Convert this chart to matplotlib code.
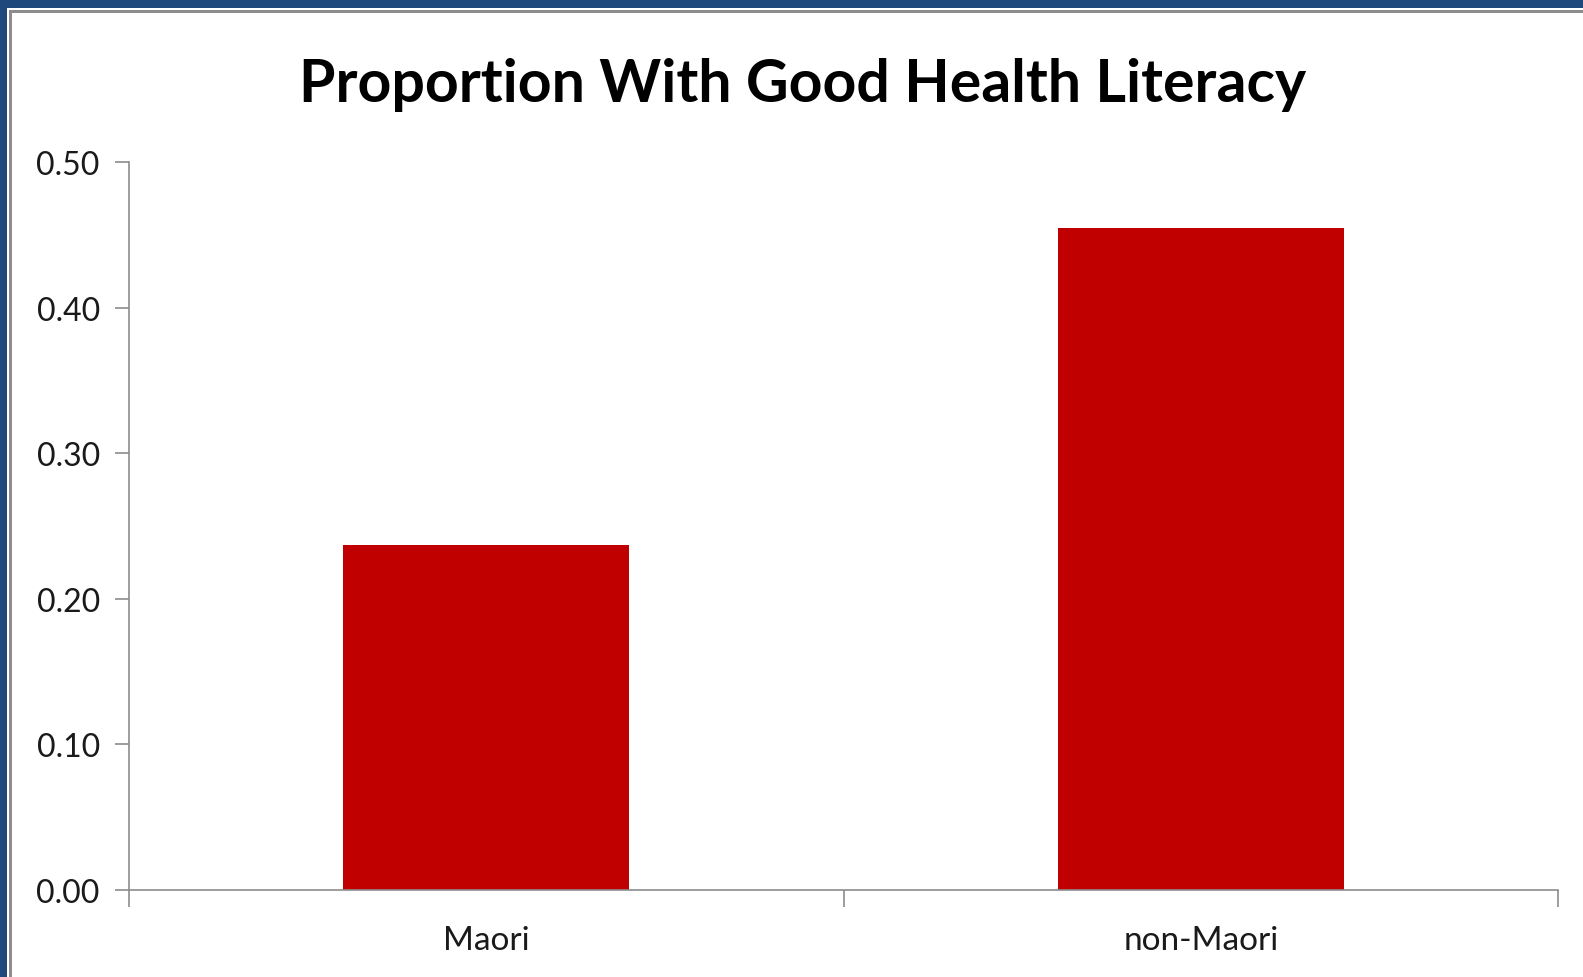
import matplotlib
matplotlib.use("Agg")
import matplotlib.pyplot as plt
from matplotlib.patches import Rectangle

groups = ["Maori", "non-Maori"]
proportions = [0.237, 0.455]
y_ticks = [0.0, 0.1, 0.2, 0.3, 0.4, 0.5]

plt.rcParams['font.family'] = ['Lato', 'DejaVu Sans']

W, H = 1583, 978
fig = plt.figure(figsize=(W / 100, H / 100), dpi=100)
fig.patch.set_facecolor("white")

# frame: dark blue band on top/left, thin grey inner line
fig.add_artist(Rectangle((0, 1 - 9 / H), 1, 9 / H, transform=fig.transFigure,
                         facecolor="#1f497d", edgecolor="none"))
fig.add_artist(Rectangle((0, 0), 7 / W, 1, transform=fig.transFigure,
                         facecolor="#1f497d", edgecolor="none"))
fig.add_artist(Rectangle((9 / W, 0), 3 / W, 1 - 11 / H, transform=fig.transFigure,
                         facecolor="#8c8c8c", edgecolor="none"))
fig.add_artist(Rectangle((9 / W, 1 - 14 / H), 1, 3 / H, transform=fig.transFigure,
                         facecolor="#8c8c8c", edgecolor="none"))

left, right = 129 / W, 1558 / W
bottom, top = 1 - 891 / H, 1 - 163 / H
ax = fig.add_axes([left, bottom, right - left, top - bottom])

x = range(len(groups))
ax.bar(x, proportions, width=0.4, color="#c00000", edgecolor="none")

ax.set_xlim(-0.5, 1.5)
ax.set_ylim(0, 0.5)
ax.set_yticks(y_ticks)
ax.set_yticklabels([f"{v:.2f}" for v in y_ticks], fontsize=23, color="#1a1a1a")

ax.set_xticks([-0.5, 0.5, 1.5])
ax.set_xticklabels([])
ax.set_xticks(list(x), minor=True)
ax.set_xticklabels(groups, minor=True, fontsize=24, color="#1a1a1a")
ax.tick_params(axis="x", which="minor", length=0, pad=25)
ax.tick_params(axis="x", which="major", length=12, width=1.2, color="#8c8c8c", direction="out")
ax.tick_params(axis="y", length=10, width=1.2, color="#8c8c8c", direction="out", pad=11)

for side in ["top", "right"]:
    ax.spines[side].set_visible(False)
for side in ["left", "bottom"]:
    ax.spines[side].set_color("#8c8c8c")
    ax.spines[side].set_linewidth(1.2)

fig.text(803 / W, 1 - 85 / H, "Proportion With Good Health Literacy",
         ha="center", va="center", fontsize=42.5, fontweight="bold", color="black")

fig.savefig("out.png", dpi=100)
